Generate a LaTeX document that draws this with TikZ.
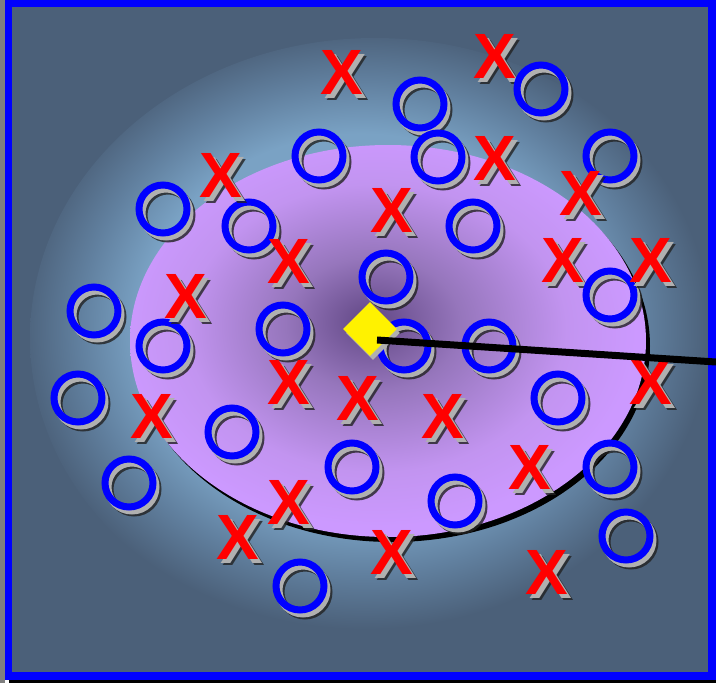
\documentclass[tikz,border=0pt]{standalone}
\usepackage{fontspec}
\newfontfamily\xfont{Liberation Sans}
\usetikzlibrary{shapes.geometric}
\definecolor{basec}{HTML}{4B6079}
\definecolor{glowc}{HTML}{7AA2C4}
\definecolor{midc}{HTML}{61809F}
\definecolor{purpin}{HTML}{6C5190}
\definecolor{purpmid}{HTML}{9676BC}
\definecolor{purpmid2}{HTML}{C294F0}
\definecolor{purpout}{HTML}{CC99FF}
\definecolor{shlight}{HTML}{B0B0B0}
\definecolor{shdark}{HTML}{222222}
\definecolor{leftstrip}{HTML}{7F7F7F}
% in TikZ the path's bounding box maps to the central 50bp square: the path edge sits at 25bp
\pgfdeclareradialshading{glowsh}{\pgfpoint{-1.5bp}{1.5bp}}{color(0bp)=(glowc); color(16bp)=(glowc); color(20.5bp)=(midc); color(25bp)=(basec); color(50bp)=(basec)}
\pgfdeclareradialshading{purpsh}{\pgfpoint{-1.75bp}{2.6bp}}{color(0bp)=(purpin); color(1.8bp)=(purpin); color(8.5bp)=(purpmid); color(18.4bp)=(purpmid2); color(25bp)=(purpout); color(50bp)=(purpout)}
\tikzset{
  xbase/.style={font={\xfont\bfseries\fontsize{64}{64}\selectfont}, inner sep=0pt},
  xmk/.style={xbase, text=red},
  xlt/.style={xbase, text=shlight},
  xdk/.style={xbase, text=shdark, opacity=0.8},
  obase/.style={circle, minimum size=48pt, inner sep=0pt, line width=7pt},
  omk/.style={obase, draw=blue},
  olt/.style={obase, draw=shlight},
  odk/.style={obase, draw=shdark, draw opacity=0.8},
  diam/.style={diamond, minimum size=54pt, inner sep=0pt},
}
\begin{document}
\begin{tikzpicture}[x=1pt,y=-1pt]
\useasboundingbox (0,0) rectangle (716,683);
% outer strips
\fill[leftstrip] (0,0) rectangle (4.5,683);
\fill[black] (9,680) rectangle (716,683);
% background
\begin{scope}
  \clip (12,7) rectangle (708,672);
  \fill[basec] (12,7) rectangle (708,672);
  \shade[shading=glowsh] (375,338) ellipse [x radius=345pt, y radius=300pt];
\end{scope}
% purple ellipse with shadow
\fill[black] (392,346) ellipse [x radius=258pt, y radius=196pt];
\shade[shading=purpsh] (388,341) ellipse [x radius=258pt, y radius=196pt];
% circles group A
\foreach \p [count=\i] in {(420,104),(319,156),(438,157),(610,156),(163,209),(249,226),(473,226),(386,277),(94,311),(283,329),(163,346),(404,346),(489,346),(78,398),(558,398),(232,432),(352,467),(610,467),(129,483),(455,501),(626,536),(300,586)}{
  \node[odk, xshift=5pt, yshift=-6pt] (oda\i) at \p {};
  \node[olt, xshift=3pt, yshift=-4pt] (ola\i) at \p {};
  \node[omk] (oa\i) at \p {};
}
% crosses group A
\foreach \p [count=\i] in {(342,72),(495,56),(221,175),(495,158),(392,210),(581,193),(289,261),(563,260),(186,296),(289,382),(358,398),(152,416),(443,416),(651,382),(530,467),(289,502),(238,537),(392,552),(547,572)}{
  \node[xdk, xshift=6pt, yshift=-6pt] (xda\i) at \p {X};
  \node[xlt, xshift=4pt, yshift=-4pt] (xla\i) at \p {X};
  \node[xmk] (xa\i) at \p {X};
}
% circles group B
\foreach \p [count=\i] in {(541,89),(610,295)}{
  \node[odk, xshift=5pt, yshift=-6pt] (odb\i) at \p {};
  \node[olt, xshift=3pt, yshift=-4pt] (olb\i) at \p {};
  \node[omk] (ob\i) at \p {};
}
% crosses group B
\foreach \p [count=\i] in {(651,260)}{
  \node[xdk, xshift=6pt, yshift=-6pt] (xdb\i) at \p {X};
  \node[xlt, xshift=4pt, yshift=-4pt] (xlb\i) at \p {X};
  \node[xmk] (xb\i) at \p {X};
}
% diamond
\node[diam, fill=shlight, xshift=3pt, yshift=-4pt] (dsh) at (370,329) {};
\node[diam, fill=yellow] (dm) at (370,329) {};
% frame
\draw[blue, line width=7.5pt] (8.25,3.5) rectangle (712,676);
% line (runs over the frame to the right edge)
\coordinate (ls) at (377,340);
\coordinate (le) at (716,362);
\draw[line width=7pt] (ls) -- (le);
\end{tikzpicture}
\end{document}
